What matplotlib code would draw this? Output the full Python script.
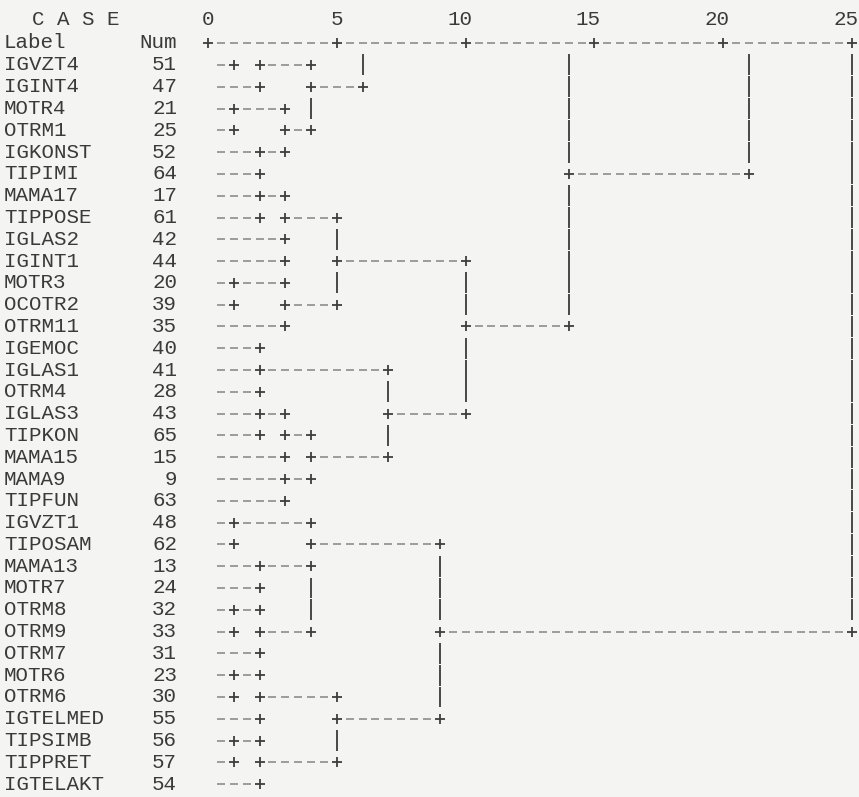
import matplotlib
matplotlib.use('Agg')
import matplotlib.pyplot as plt

# cases shown on this page of the dendrogram, top to bottom
labels = ["IGVZT4", "IGINT4", "MOTR4", "OTRM1", "IGKONST", "TIPIMI", "MAMA17",
          "TIPPOSE", "IGLAS2", "IGINT1", "MOTR3", "OCOTR2", "OTRM11", "IGEMOC",
          "IGLAS1", "OTRM4", "IGLAS3", "TIPKON", "MAMA15", "MAMA9", "TIPFUN",
          "IGVZT1", "TIPOSAM", "MAMA13", "MOTR7", "OTRM8", "OTRM9", "OTRM7",
          "MOTR6", "OTRM6", "IGTELMED", "TIPSIMB", "TIPPRET", "IGTELAKT"]
nums = [51, 47, 21, 25, 52, 64, 17, 61, 42, 44, 20, 39, 35, 40, 41, 28, 43, 65,
        15, 9, 63, 48, 62, 13, 24, 32, 33, 31, 23, 30, 55, 56, 57, 54]

# clusters that come from the previous page (rows above the first case)
prev_rows = {"p0": 0, "p1": -1, "p2": -2, "p3": -8, "p4": -30}

# merges: (cluster a, cluster b, rescaled distance); merge i becomes cluster "m{i}"
merges = [
    ("p0", "IGVZT4", 1.0), ("m0", "IGINT4", 2.0),
    ("MOTR4", "OTRM1", 1.0), ("IGKONST", "TIPIMI", 2.0),
    ("m2", "m3", 3.0), ("m1", "m4", 4.0), ("m5", "p2", 6.0),
    ("MAMA17", "TIPPOSE", 2.0), ("IGLAS2", "IGINT1", 3.0), ("m7", "m8", 3.0),
    ("MOTR3", "OCOTR2", 1.0), ("m10", "OTRM11", 3.0), ("m9", "m11", 5.0),
    ("IGEMOC", "IGLAS1", 2.0), ("m13", "OTRM4", 2.0),
    ("IGLAS3", "TIPKON", 2.0), ("m15", "MAMA15", 3.0),
    ("MAMA9", "TIPFUN", 3.0), ("m16", "m17", 4.0), ("m14", "m18", 7.0),
    ("m12", "m19", 10.0), ("p1", "m20", 14.0), ("m21", "p3", 21.0),
    ("IGVZT1", "TIPOSAM", 1.0), ("MAMA13", "MOTR7", 2.0),
    ("OTRM8", "OTRM9", 1.0), ("m25", "OTRM7", 2.0),
    ("m24", "m26", 4.0), ("m23", "m27", 4.0),
    ("MOTR6", "OTRM6", 1.0), ("m29", "IGTELMED", 2.0),
    ("TIPSIMB", "TIPPRET", 1.0), ("m31", "IGTELAKT", 2.0),
    ("m30", "m32", 5.0), ("m28", "m33", 9.0), ("p4", "m34", 25.0),
]

scale_ticks = [0, 5, 10, 15, 20, 25]

# build the character grid the way the text output lays it out
# two character columns per unit of distance
rows = {lab: i + 1 for i, lab in enumerate(labels)}
rows.update(prev_rows)
leaves = set(rows)
cols = {}
rank = {'-': 0, '|': 1, '+': 2}
grid = {}

def put(r, c, ch):
    if r < 1:
        return
    old = grid.get((r, c))
    if old is None or rank[ch] >= rank[old]:
        grid[(r, c)] = ch

for i, (a, b, d) in enumerate(merges):
    p = int(round(2 * d))
    for child in (a, b):
        r = rows[child]
        if child in leaves:
            for c in range(1, p):
                put(r, c, '-')
            put(r, p, '+')
        elif p > cols[child]:
            put(r, cols[child], '+')
            for c in range(cols[child] + 1, p):
                put(r, c, '-')
            put(r, p, '+')
    ra, rb = sorted([rows[a], rows[b]])
    for r in range(ra + 1, rb):
        put(r, p, '|')
    name = f"m{i}"
    rows[name] = (ra + rb) // 2
    cols[name] = p

# figure in pixel-like layout
fig = plt.figure(figsize=(8.59, 7.97), dpi=100)
bg = '#f4f4f2'
fig.patch.set_facecolor(bg)
ax = fig.add_axes([0, 0, 1, 1])
ax.set_facecolor(bg)
ax.set_xlim(-16.15, 50.54)
ax.set_ylim(34.59, -1.98)
ax.axis('off')

dash_c = '#858585'
plus_c = '#3e3e3e'
text_c = '#3a3a3a'
font = 'Liberation Mono'
fs = 15

dx = [c for (r, c), ch in grid.items() if ch == '-']
dy = [r for (r, c), ch in grid.items() if ch == '-']
px = [c for (r, c), ch in grid.items() if ch == '+']
py = [r for (r, c), ch in grid.items() if ch == '+']
vx = [c for (r, c), ch in grid.items() if ch == '|']
vy = [r for (r, c), ch in grid.items() if ch == '|']

ax.plot(dx, dy, ls='none', marker='_', ms=5.2, mew=1.1, color=dash_c)
ax.plot(px, py, ls='none', marker='+', ms=7, mew=1.3, color=plus_c)
ax.vlines(vx, [y - 0.48 for y in vy], [y + 0.48 for y in vy], color='#3a3a3a', lw=1.3)

# scale line
tick_cols = [2 * t for t in scale_ticks]
sx = [c for c in range(tick_cols[0], tick_cols[-1] + 1) if c not in tick_cols]
ax.plot(sx, [0] * len(sx), ls='none', marker='_', ms=5.2, mew=1.1, color=dash_c)
ax.plot(tick_cols, [0] * len(tick_cols), ls='none', marker='+', ms=7, mew=1.3, color=plus_c)
for t, c in zip(scale_ticks, tick_cols):
    ax.text(c + 0.5, -1.08, str(t), ha='right', va='center', fontsize=fs,
            family=font, color=text_c)

# header and case labels
ax.text(-13.7, -1.08, "C A S E", ha='left', va='center', fontsize=fs, family=font, color=text_c)
ax.text(-15.85, -0.05, "Label", ha='left', va='center', fontsize=fs, family=font, color=text_c)
ax.text(-2.4, -0.05, "Num", ha='right', va='center', fontsize=fs, family=font, color=text_c)
for lab, n in zip(labels, nums):
    r = rows[lab]
    ax.text(-15.85, r, lab, ha='left', va='center', fontsize=fs, family=font, color=text_c)
    ax.text(-2.4, r, str(n), ha='right', va='center', fontsize=fs, family=font, color=text_c)

fig.savefig("out.png", dpi=100, facecolor=bg)
